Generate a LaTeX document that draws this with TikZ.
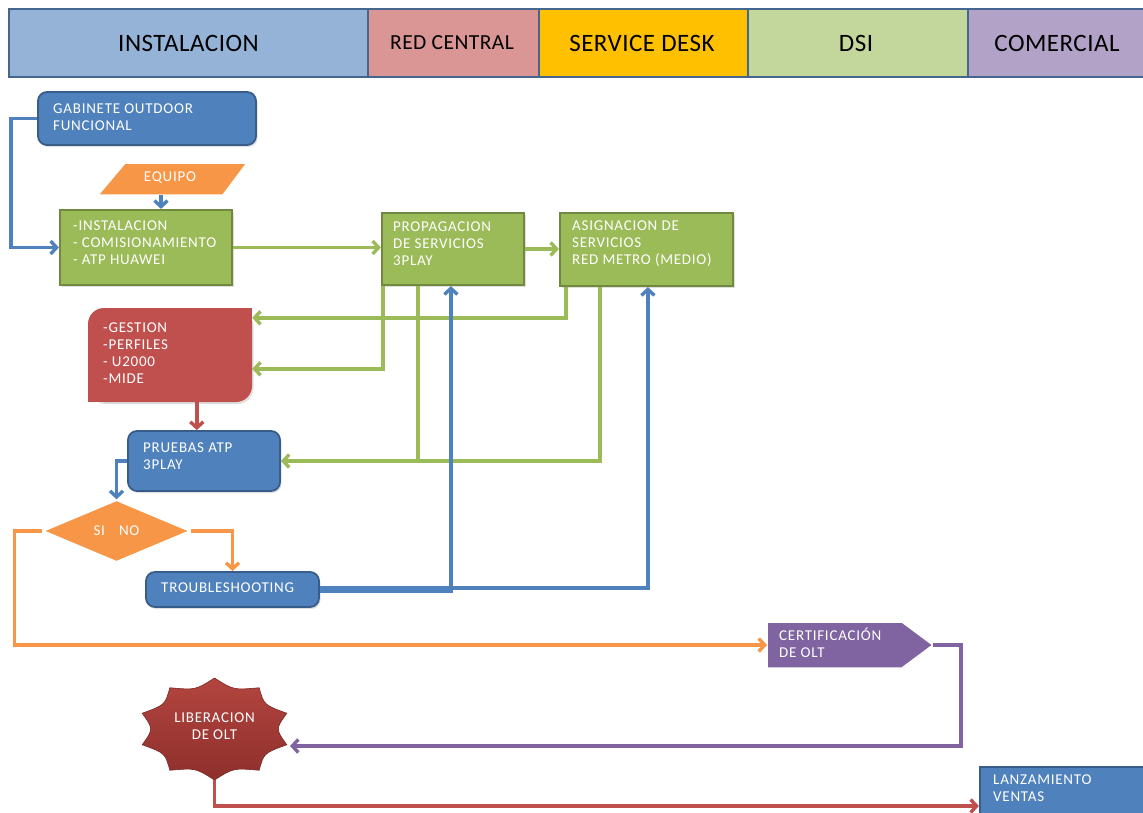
\documentclass[tikz,border=0pt]{standalone}
\usepackage{fontspec}
\setmainfont{Carlito}
\newfontfamily\boxfont[LetterSpace=5]{Carlito}
\newfontfamily\headfont[LetterSpace=2]{Carlito}
\usetikzlibrary{arrows.meta,shapes.geometric,shadows,calc}
\definecolor{laneA}{HTML}{95B3D7}
\definecolor{laneB}{HTML}{D99694}
\definecolor{laneC}{HTML}{FFC000}
\definecolor{laneD}{HTML}{C3D69B}
\definecolor{laneE}{HTML}{B3A2C7}
\definecolor{laneEdge}{HTML}{44668F}
\definecolor{cblue}{HTML}{4F81BD}
\definecolor{cblueD}{HTML}{385D8A}
\definecolor{cgreen}{HTML}{9BBB59}
\definecolor{cgreenD}{HTML}{71893F}
\definecolor{corange}{HTML}{F79646}
\definecolor{cred}{HTML}{C0504D}
\definecolor{cpurple}{HTML}{8064A2}
\definecolor{starTop}{HTML}{B3453F}
\definecolor{starBot}{HTML}{8E2F2C}
\begin{document}
\begin{tikzpicture}[x=1pt,y=-1pt,
  lane/.style={draw=laneEdge, line width=2.5pt},
  lanetext/.style={font=\headfont\fontsize{25}{28}\selectfont, text=black, inner sep=0pt},
  txt/.style={font=\boxfont\fontsize{15}{17}\selectfont, text=white, align=left, inner sep=0pt, anchor=west},
  box/.style={rectangle, inner sep=0pt},
  softshadow/.style={drop shadow={opacity=.25, shadow xshift=1.5pt, shadow yshift=-2pt}},
  bluebox/.style={box, rounded corners=9pt, fill=cblue, draw=cblueD, line width=1.8pt, softshadow},
  greenbox/.style={box, fill=cgreen, draw=cgreenD, line width=2.2pt, softshadow},
  wire/.style={line width=3.4pt},
  tip/.style={-{Straight Barb[length=6pt,width=13pt]}},
]
\useasboundingbox (0,0) rectangle (1143,812);

% swimlane header
\path[lane, fill=laneA] (9,9) rectangle (368,77);
\node[lanetext] (hInst) at (188.5,43) {INSTALACION};
\path[lane, fill=laneB] (368,9) rectangle (539,77);
\node[lanetext, font=\headfont\fontsize{21.5}{24}\selectfont] (hRed) at (452,43) {RED CENTRAL};
\path[lane, fill=laneC] (539,9) rectangle (748,77);
\node[lanetext] (hSd) at (642,43) {SERVICE DESK};
\path[lane, fill=laneD] (748,9) rectangle (968,77);
\node[lanetext] (hDsi) at (856,43) {DSI};
\path[lane, fill=laneE] (968,9) rectangle (1150,77);
\node[lanetext] (hCom) at (1057,43) {COMERCIAL};

% process boxes
\node[bluebox, minimum width=218pt, minimum height=53pt] (gab) at (147,118.5) {};
\node[txt] (gabT) at (53,117) {GABINETE OUTDOOR\\FUNCIONAL};

\fill[corange, draw=white, line width=1.5pt] (98,195) -- (125,163) -- (247,163) -- (223,195) -- cycle;
\node[txt, anchor=center] (eq) at (170,178) {EQUIPO};
\coordinate (eqB) at (161,195);

\node[greenbox, minimum width=172pt, minimum height=75pt] (inst) at (146,247.5) {};
\node[txt] (instT) at (73,242.5) {-INSTALACION\\- COMISIONAMIENTO\\- ATP HUAWEI};

\node[greenbox, minimum width=142pt, minimum height=72pt] (prop) at (453,249) {};
\node[txt] (propT) at (393,244) {PROPAGACION\\DE SERVICIOS\\3PLAY};

\node[greenbox, minimum width=173pt, minimum height=73pt] (asig) at (646.5,249.5) {};
\node[txt] (asigT) at (572,244) {ASIGNACION DE\\SERVICIOS\\RED METRO (MEDIO)};

\node[box, rounded corners=16pt, fill=cred, minimum width=164pt, minimum height=94pt, softshadow] (gest) at (170,355) {};
\fill[cred] (gest.north east) rectangle ++(-20,20);
\fill[cred] (gest.south west) rectangle ++(20,-20);
\node[txt] (gestT) at (103,353.5) {-GESTION\\-PERFILES\\- U2000\\-MIDE};

\node[bluebox, minimum width=152pt, minimum height=60pt] (prueb) at (204,461) {};
\node[txt] (pruebT) at (143,456.5) {PRUEBAS ATP\\3PLAY};

\node[diamond, fill=corange, draw=white, line width=1.5pt, inner sep=0pt,
      minimum width=147pt, minimum height=62pt, text=white,
      font=\boxfont\fontsize{15}{17}\selectfont] (dia) at (116.5,531) {SI\hspace{14pt}NO};

\node[bluebox, minimum width=173pt, minimum height=35pt] (trb) at (232.5,589.5) {};
\node[txt] (trbT) at (161,587.5) {TROUBLESHOOTING};

\fill[cpurple, draw=white, line width=1.5pt] (767,622) -- (902,622) -- (933,645) -- (902,668) -- (767,668) -- cycle;
\node[txt] (cert) at (779,642.5) {CERTIFICACIÓN\\DE OLT};
\coordinate (certW) at (767,645);
\coordinate (certTip) at (933,645);

% ten-point seal
\coordinate (lc) at (214.5,729);
\shade[top color=starTop, bottom color=starBot, draw=starBot!85!black, line width=0.6pt]
  ($(lc)+(90:76 and 51)$)
  \foreach \i in {1,...,10}{
    .. controls ($(lc)+({90+(\i-0.5)*36}:61 and 41)$) .. ($(lc)+({90+\i*36}:76 and 51)$)
  } -- cycle;
\node[font=\boxfont\fontsize{15}{17}\selectfont, text=white, align=center, inner sep=0pt] (lib) at (214.5,726.5) {LIBERACION\\DE OLT};
\coordinate (libE) at (290,746);
\coordinate (libS) at (214.5,780);

\node[box, fill=cblue, draw=cblueD, line width=2.2pt, minimum width=164pt, minimum height=78pt] (lanz) at (1062,806) {};
\node[txt] (lanzT) at (993,788.5) {LANZAMIENTO\\VENTAS};

% connection points on box edges
\coordinate (aS1) at ([xshift=7pt]asig.south west);
\coordinate (aS2) at ([xshift=41pt]asig.south west);
\coordinate (aS3) at ([xshift=89pt]asig.south west);
\coordinate (pS1) at ([xshift=2pt]prop.south west);
\coordinate (pS2) at ([xshift=37pt]prop.south west);
\coordinate (pS3) at ([xshift=70pt]prop.south west);
\coordinate (gE1) at ([yshift=-10pt]gest.north east);
\coordinate (gE2) at ([yshift=-61pt]gest.north east);
\coordinate (gS) at ([xshift=109pt]gest.south west);

% connectors
\draw[wire, draw=cblue, tip] (gab.west) -- ++(-26,0) |- (inst.west);
\draw[wire, draw=cblue, tip] (eqB) -- (eqB |- inst.north);
\draw[wire, draw=cgreen, tip] (inst.east) -- (inst.east -| prop.west);
\draw[wire, draw=cgreen, tip] (prop.east) -- (prop.east -| asig.west);
\draw[wire, draw=cgreen, tip] (aS1) |- (gE1);
\draw[wire, draw=cgreen, tip] (pS1) |- (gE2);
\draw[wire, draw=cgreen] (aS2) |- (pS2 |- prueb.east);
\draw[wire, draw=cgreen, tip] (pS2) |- (prueb.east);
\draw[wire, draw=cred, tip] (gS) -- (gS |- prueb.north);
\draw[wire, draw=cblue, tip] (prueb.west) -| (dia.north);
\draw[wire, draw=corange, tip] (dia.west) -- ++(-28,0) |- (certW);
\draw[wire, draw=corange, tip] (dia.east) -| (trb.north);
\draw[wire, draw=cblue, tip] ([yshift=-1.5pt]trb.east) -| (pS3);
\draw[wire, draw=cblue, tip] ([yshift=1.5pt]trb.east) -| (aS3);
\draw[wire, draw=cpurple, tip] (certTip) -- ++(28,0) |- (libE);
\draw[wire, draw=cred, tip] (libS) |- (lanz.west);
\end{tikzpicture}
\end{document}
